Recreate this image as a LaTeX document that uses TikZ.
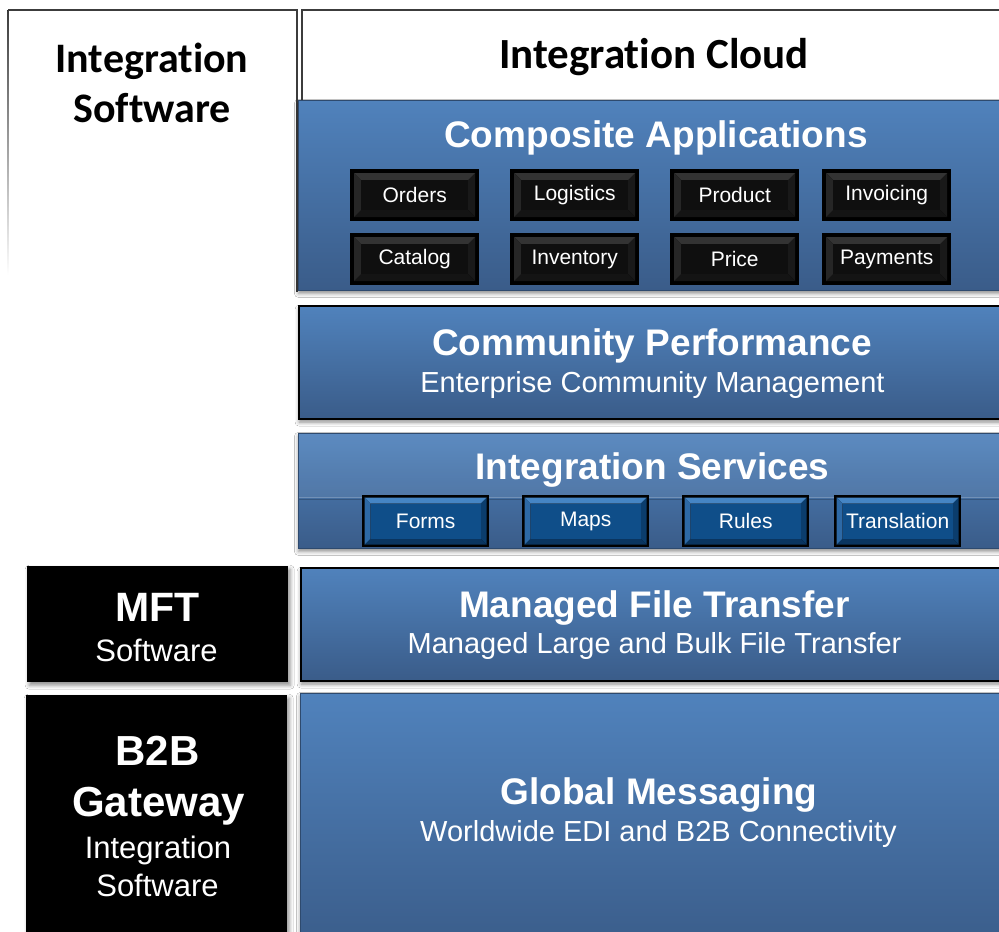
\documentclass[tikz,border=0pt]{standalone}
\usepackage{fontspec}
\setmainfont{Liberation Sans}
\newfontfamily\calibrifont[Ligatures={NoCommon}]{Carlito}
\usetikzlibrary{shadows.blur}

\definecolor{bluetop}{HTML}{5082BC}
\definecolor{bluebot}{HTML}{3A5C89}
\definecolor{edgegray}{HTML}{3C3C3C}
\definecolor{btnface}{HTML}{0F4E89}
\definecolor{btntop}{HTML}{4585C4}
\definecolor{btnleft}{HTML}{2D69A6}
\definecolor{btnright}{HTML}{0B3D6D}
\definecolor{btnbottom}{HTML}{0A3560}

% bevelled face drawn inside a button: inset, bevel width, four bevel colours, face colour
\newcommand\btnbevel[7]{%
  \coordinate (bNW) at ([xshift=#1,yshift=-#1]path picture bounding box.north west);
  \coordinate (bNE) at ([xshift=-#1,yshift=-#1]path picture bounding box.north east);
  \coordinate (bSE) at ([xshift=-#1,yshift=#1]path picture bounding box.south east);
  \coordinate (bSW) at ([xshift=#1,yshift=#1]path picture bounding box.south west);
  \coordinate (iNW) at ([xshift=#2,yshift=-#2]bNW);
  \coordinate (iNE) at ([xshift=-#2,yshift=-#2]bNE);
  \coordinate (iSE) at ([xshift=-#2,yshift=#2]bSE);
  \coordinate (iSW) at ([xshift=#2,yshift=#2]bSW);
  \fill[#3] (bNW) -- (bNE) -- (iNE) -- (iNW) -- cycle;
  \fill[#4] (bNW) -- (iNW) -- (iSW) -- (bSW) -- cycle;
  \fill[#5] (bNE) -- (bSE) -- (iSE) -- (iNE) -- cycle;
  \fill[#6] (bSW) -- (iSW) -- (iSE) -- (bSE) -- cycle;
  \fill[#7] (iNW) rectangle (iSE);
}

\tikzset{
  layer/.style={rectangle, anchor=north west, inner sep=0pt,
    top color=bluetop, bottom color=bluebot, draw=bluebot!80!black, line width=0.8pt,
    blur shadow={shadow xshift=0pt, shadow yshift=-3pt, shadow blur radius=4pt, shadow opacity=45}},
  framed/.style={layer, draw=black, line width=2.2pt},
  darkblock/.style={rectangle, anchor=north west, inner sep=0pt, fill=black,
    blur shadow={shadow xshift=2pt, shadow yshift=-3pt, shadow blur radius=4pt, shadow opacity=45}},
  appbtn/.style={rectangle, anchor=north west, inner sep=0pt, minimum width=129pt,
    minimum height=52pt, fill=black, text=white, font=\fontsize{21}{24}\selectfont,
    path picture={\btnbevel{4pt}{7pt}{black!80}{black!85}{black!90}{black!92}{black!94}}},
  svcbtn/.style={rectangle, anchor=north west, inner sep=0pt, minimum width=127pt,
    minimum height=52pt, fill=black, text=white, font=\fontsize{21}{24}\selectfont,
    path picture={\btnbevel{2.5pt}{6pt}{btntop}{btnleft}{btnright}{btnbottom}{btnface}}},
  title/.style={anchor=base, text=white, font=\fontsize{37}{40}\selectfont\bfseries},
  subtitle/.style={anchor=base, text=white, font=\fontsize{29}{32}\selectfont},
  headline/.style={anchor=base, text=black, font=\calibrifont\bfseries\fontsize{42}{46}\selectfont},
  edge/.style={draw=edgegray, line width=1.3pt},
}

\begin{document}
\begin{tikzpicture}[x=1pt, y=-1pt]
\useasboundingbox (0,0) rectangle (999,932);
\clip (0,0) rectangle (999,932);
\fill[white] (0,0) rectangle (999,932);

% outline of the software column and the cloud column
\fill[top color=edgegray, bottom color=white] (7.4,10) rectangle (8.7,275);
\draw[edge] (8,10) -- (297,10) -- (297,292);
\draw[edge] (302,100) -- (302,10) -- (1010,10);

\node[headline] (swhead1) at (152,72) {Integration};
\node[headline] (swhead2) at (152,122) {Software};
\node[headline, font=\calibrifont\bfseries\fontsize{43}{47}\selectfont] (cloudhead) at (654,68) {Integration Cloud};

% cloud layers
\node[layer, minimum width=712pt, minimum height=190pt] (composite) at (298,100) {};
\node[framed, minimum width=712pt, minimum height=113pt] (community) at (298,305) {};
\node[layer, minimum width=712pt, minimum height=115pt] (services) at (298,433) {};
\node[framed, minimum width=710pt, minimum height=113pt] (mftlayer) at (300,567) {};
\node[layer, minimum width=710pt, minimum height=260pt] (messaging) at (300,693) {};

% raised band behind the services title
\fill[white, opacity=0.07] (299,434) rectangle (1010,497);
\draw[white, opacity=0.25, line width=0.8pt] (299,497.5) -- (1010,497.5);
\draw[bluebot!70!black, opacity=0.5, line width=0.8pt] (299,499) -- (1010,499);

% software blocks
\node[darkblock, minimum width=261pt, minimum height=116pt] (mftblock) at (27,566) {};
\node[darkblock, minimum width=261pt, minimum height=250pt] (b2bblock) at (26,695) {};

% titles
\node[title] (compositet) at (656,147) {Composite Applications};
\node[title] (communityt) at (652,355) {Community Performance};
\node[subtitle] (communitys) at (652.5,392) {Enterprise Community Management};
\node[title] (servicest) at (652.5,479) {Integration Services};
\node[title] (mftt) at (654.5,617) {Managed File Transfer};
\node[subtitle] (mfts) at (654.5,653) {Managed Large and Bulk File Transfer};
\node[title] (messagingt) at (659,804) {Global Messaging};
\node[subtitle] (messagings) at (658.5,841) {Worldwide EDI and B2B Connectivity};

\node[title, font=\fontsize{41}{44}\selectfont\bfseries] (mftname) at (157.5,621) {MFT};
\node[subtitle, font=\fontsize{31}{34}\selectfont] (mftkind) at (156.5,661) {Software};
\node[title, font=\fontsize{42}{46}\selectfont\bfseries] (b2bname) at (157.5,765) {B2B};
\node[title, font=\fontsize{42}{46}\selectfont\bfseries] (gatewayname) at (158.5,816) {Gateway};
\node[subtitle, font=\fontsize{31}{34}\selectfont] (b2bkind1) at (158,858) {Integration};
\node[subtitle, font=\fontsize{31}{34}\selectfont] (b2bkind2) at (157.5,896) {Software};

% composite application buttons
\node[appbtn] (orders) at (350,169) {Orders};
\node[appbtn] (logistics) at (510,169) {Logistics};
\node[appbtn] (product) at (670,169) {Product};
\node[appbtn] (invoicing) at (822,169) {Invoicing};
\node[appbtn] (catalog) at (350,233) {Catalog};
\node[appbtn] (inventory) at (510,233) {Inventory};
\node[appbtn] (price) at (670,233) {Price};
\node[appbtn] (payments) at (822,233) {Payments};

% integration service buttons
\node[svcbtn] (forms) at (362,495) {Forms};
\node[svcbtn] (maps) at (522,495) {Maps};
\node[svcbtn] (rules) at (682,495) {Rules};
\node[svcbtn] (translation) at (834,495) {Translation};
\end{tikzpicture}
\end{document}
